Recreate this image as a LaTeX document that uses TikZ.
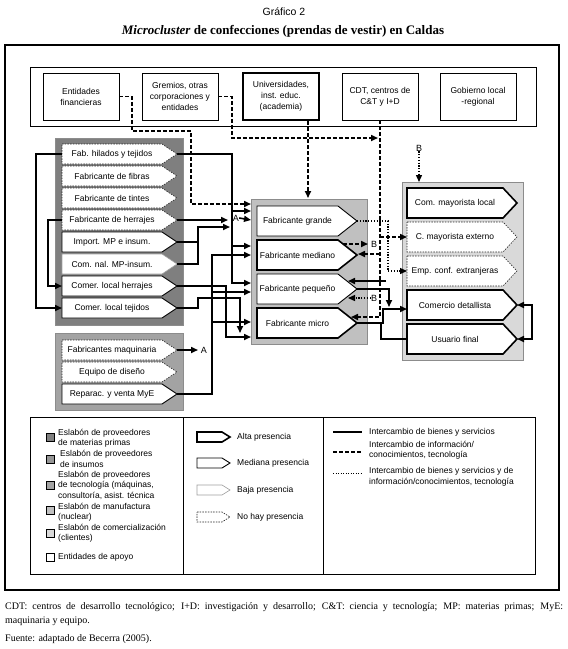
\documentclass[tikz,border=0pt]{standalone}
\usepackage{fontspec}
\setmainfont{Liberation Sans}
\newfontfamily\tnr{Liberation Serif}
\usetikzlibrary{arrows.meta,calc}
\definecolor{gMP}{HTML}{7F7F7F}
\definecolor{gIns}{HTML}{969696}
\definecolor{gTec}{HTML}{A3A3A3}
\definecolor{gMan}{HTML}{C0C0C0}
\definecolor{gCom}{HTML}{D9D9D9}
\definecolor{gBor}{HTML}{8C8C8C}
\newcommand{\pent}[8]{%
  \draw[#2,fill=white] (#3,#4) -- (#3+#5,#4) -- (#3+#5+#7,#4+#6/2) -- (#3+#5,#4+#6) -- (#3,#4+#6) -- cycle;
  \node[itxt] (#1) at (#3+#5/2,#4+#6/2) {#8};
  \coordinate (#1-tip) at (#3+#5+#7,#4+#6/2);
  \coordinate (#1-w) at (#3,#4+#6/2);
}
\tikzset{
  alta/.style={draw=black,line width=1.6pt},
  mediana/.style={draw=black,line width=0.9pt},
  baja/.style={draw=gray!75,line width=0.6pt},
  nohay/.style={draw=black!85,line width=0.6pt,dash pattern=on 1.5pt off 1.2pt},
  itxt/.style={font=\fontsize{8.5}{10}\selectfont,inner sep=0pt},
  grp/.style={draw=gBor,line width=0.8pt,inner sep=0pt},
  conn/.style={line width=1.6pt},
  arr/.style={-{Triangle[length=7pt,width=6pt]}},
  arrb/.style={{Triangle[length=7pt,width=6pt]}-{Triangle[length=7pt,width=6pt]}},
  info/.style={line width=1.6pt,dash pattern=on 4pt off 2pt},
  mix/.style={line width=1.3pt,dash pattern=on 1.2pt off 1.6pt},
  supbox/.style={draw=black,line width=0.6pt,fill=white,align=center,font=\fontsize{8.5}{11}\selectfont,minimum width=76pt,minimum height=47pt,inner sep=1pt},
  lbl/.style={font=\fontsize{9}{10}\selectfont,inner sep=0pt},
  legtxt/.style={font=\fontsize{8.5}{10.5}\selectfont,inner sep=0pt,anchor=west,align=left},
  legsq/.style={draw=black,line width=0.5pt,minimum size=8pt,inner sep=0pt},
}
\begin{document}
\begin{tikzpicture}[x=1pt,y=-1pt]
\useasboundingbox (0,0) rectangle (568,649);
\fill[white] (0,0) rectangle (568,649);
% titles
\node[font=\fontsize{10.5}{12}\selectfont] (t1) at (284,12) {Gráfico 2};
\node[font=\tnr\bfseries\fontsize{13}{15}\selectfont] (t2) at (283,31) {\textit{Microcluster} de confecciones (prendas de vestir) en Caldas};
% frame
\draw[line width=2pt] (5,45) rectangle (559,590);
% support entities
\node[draw=black,line width=0.6pt,minimum width=506pt,minimum height=59pt,inner sep=0pt] (topbox) at (283,96.5) {};
\node[supbox] (ent) at (81,96.5) {Entidades\\financieras};
\node[supbox] (gre) at (180,96.5) {Gremios, otras\\corporaciones y\\entidades};
\node[supbox,line width=2pt] (uni) at (281,96.5) {Universidades,\\inst. educ.\\(academia)};
\node[supbox] (cdt) at (380,96.5) {CDT, centros de\\C\&T y I+D};
\node[supbox] (gob) at (478,96.5) {Gobierno local\\-regional};
% group boxes
\node[grp,fill=gMP,minimum width=128pt,minimum height=187pt,anchor=north west] (mpbox) at (55,138) {};
\node[grp,fill=gTec,minimum width=128pt,minimum height=77pt,anchor=north west] (tecbox) at (55,333) {};
\node[grp,fill=gMan,minimum width=116pt,minimum height=145pt,anchor=north west] (manbox) at (251,199) {};
\node[grp,fill=gCom,minimum width=121pt,minimum height=178pt,anchor=north west] (combox) at (402,182) {};
% supplier items
\pent{hil}{nohay}{62}{144}{100}{20}{15}{Fab. hilados y tejidos}
\pent{fib}{nohay}{62}{166}{100}{20}{15}{Fabricante de fibras}
\pent{tin}{nohay}{62}{188}{100}{20}{15}{Fabricante de tintes}
\pent{her}{nohay}{62}{210}{100}{20}{15}{Fabricante de herrajes}
\pent{imp}{mediana}{62}{232}{100}{20}{15}{Import. MP e insum.}
\pent{cnl}{baja}{62}{254}{100}{20}{15}{Com. nal. MP-insum.}
\pent{clh}{mediana}{62}{276}{100}{20}{15}{Comer. local herrajes}
\pent{clt}{mediana}{62}{298}{100}{20}{15}{Comer. local tejidos}
% technology
\pent{maq}{nohay}{62}{340}{100}{20}{15}{Fabricantes maquinaria}
\pent{eqd}{nohay}{62}{362}{100}{20}{15}{Equipo de diseño}
\pent{rep}{mediana}{62}{384}{100}{20}{15}{Reparac. y venta MyE}
% manufacturing
\pent{gra}{mediana}{257}{206}{81}{30}{19}{Fabricante grande}
\pent{med}{alta}{257}{240}{81}{30}{19}{Fabricante mediano}
\pent{pqe}{mediana}{257}{274}{81}{30}{19}{Fabricante pequeño}
\pent{mic}{alta}{257}{308}{81}{30}{19}{Fabricante micro}
% commercialisation
\pent{cml}{alta}{407}{188}{96}{30}{14}{Com. mayorista local}
\pent{cme}{nohay}{407}{222}{96}{30}{14}{C. mayorista externo}
\pent{emp}{nohay}{407}{256}{96}{30}{14}{Emp. conf. extranjeras}
\pent{det}{alta}{407}{290}{96}{30}{14}{Comercio detallista}
\pent{usu}{alta}{407}{324}{96}{30}{14}{Usuario final}
% dashed information flows
\draw[info,arr] (ent.east) -| (132,131) -| (191,204) -- (251,204);
\draw[info,arr] (gre.east) -| (232,138) -- (378,138);
\draw[info,arr] ($(uni.south)+(27,0)$) -- (308,198);
\draw[info,arr] (cdt.south) -- (380,317) -- (351,317);
\draw[info,arr] (380,254) -- (358,254);
\draw[info,arr] (380,237) -- (407,237);
\draw[info,arr] (343,244) -- (368,244);
\node[lbl] (b1) at (374,244) {B};
% dotted flows
\node[lbl] (b2) at (374,298) {B};
\draw[mix,arr] (b2.west) -- (348,298);
\node[lbl] (b3) at (419,148) {B};
\draw[mix,arr] (b3.south) -- (419,182);
\draw[mix,arr] (gra-tip) -- (388,221) -- (388,271) -- (emp-w);
% solid flows, left side
\draw[conn,arr] (hil-w) -- (36,154) -- (36,308) -- (clt-w);
\draw[conn,arr] (her-w) -- (48,220) -- (48,286) -- (clh-w);
% solid flows to manufacturing
\draw[conn,arr] (hil-tip) -- (232,154) -- (232,283) -- (251,283);
\draw[conn,arr] (232,211) -- (251,211);
\draw[conn,arr] (232,246) -- (251,246);
\draw[conn,arr] (her-tip) -- (228,220);
\node[lbl] (a1) at (236,218) {A};
\draw[conn,arr] (a1.east) -- (251,220);
\draw[conn,arr] (imp-tip) -- (198,242) -- (198,227) -- (230,227);
\draw[conn] (cnl-tip) -- (198,264) -- (198,242);
\draw[conn,arr] (rep-tip) -- (212,394) -- (212,255) -- (251,255);
\draw[conn,arr] (212,292) -- (251,292);
\draw[conn,arr] (212,322) -- (251,322);
\draw[conn,arr] (clh-tip) -- (226,286) -- (226,337) -- (251,337);
\draw[conn,arr] (clt-tip) -- (198,308) -- (198,298) -- (240,298) -- (240,333);
\draw[conn,arr] (maq-tip) -- (198,350);
\node[lbl] (a2) at (204,350) {A};
% solid flows to commercialisation
\coordinate (ret) at (386,281);
\draw[conn,arr] (ret) -- (348,281);
\draw[conn,arr] (pqe-tip) -- (389,289) -- (389,307);
\draw[conn,arr] (mic-tip) -- (383,323) -- (383,309) -- (407,309);
\draw[conn] (mic-tip) -| (381,339) -- (usu-w);
\draw[conn,arrb] (det-tip) -- (532,305) -- (532,339) -- (usu-tip);
% legend
\draw[line width=0.8pt] (30,417) rectangle (535,574);
\draw[line width=0.8pt] (183,417) -- (183,574);
\draw[line width=0.8pt] (323,417) -- (323,574);
\node[legsq,fill=gMP] (s1) at (50,437) {};
\node[legtxt] (l1) at (58,438) {Eslabón de proveedores\\de materias primas};
\node[legsq,fill=gIns] (s2) at (50,459) {};
\node[legtxt] (l2) at (60,459) {Eslabón de proveedores\\de insumos};
\node[legsq,fill=gTec] (s3) at (50,485) {};
\node[legtxt] (l3) at (58,485) {Eslabón de proveedores\\de tecnología (máquinas,\\consultoría, asist. técnica};
\node[legsq,fill=gMan] (s4) at (50,510) {};
\node[legtxt] (l4) at (58,512) {Eslabón de manufactura\\(nuclear)};
\node[legsq,fill=gCom] (s5) at (50,533) {};
\node[legtxt] (l5) at (58,533) {Eslabón de comercialización\\(clientes)};
\node[legsq,fill=white] (s6) at (50,557) {};
\node[legtxt] (l6) at (58,557) {Entidades de apoyo};
\pent{lg1}{alta}{197}{432}{25}{10}{8}{}
\node[legtxt] (m1) at (237,437) {Alta presencia};
\pent{lg2}{mediana}{197}{458}{25}{10}{8}{}
\node[legtxt] (m2) at (237,463) {Mediana presencia};
\pent{lg3}{baja}{197}{485}{25}{10}{8}{}
\node[legtxt] (m3) at (237,490) {Baja presencia};
\pent{lg4}{nohay}{197}{512}{25}{10}{8}{}
\node[legtxt] (m4) at (237,517) {No hay presencia};
\coordinate (r1a) at (333,432); \coordinate (r1b) at (362,432);
\draw[conn] (r1a) -- (r1b);
\node[legtxt] (n1) at (369,432) {Intercambio de bienes y servicios};
\coordinate (r2a) at (333,452); \coordinate (r2b) at (362,452);
\draw[info] (r2a) -- (r2b);
\node[legtxt] (n2) at (369,450) {Intercambio de información/\\conocimientos, tecnología};
\coordinate (r3a) at (333,473); \coordinate (r3b) at (362,473);
\draw[line width=1pt,dash pattern=on 1pt off 1.5pt] (r3a) -- (r3b);
\node[legtxt] (n3) at (369,477) {Intercambio de bienes y servicios y de\\información/conocimientos, tecnología};
% footer
\node[anchor=north west,text width=558pt,align=justify,inner sep=0pt,font=\tnr\fontsize{10}{14}\selectfont] (foot) at (5,602) {CDT: centros de desarrollo tecnológico; I+D: investigación y desarrollo; C\&T: ciencia y tecnología; MP: materias primas; MyE:\linebreak maquinaria y equipo.};
\node[anchor=north west,inner sep=0pt,font=\tnr\fontsize{10}{14}\selectfont] (src) at (5,634) {Fuente: adaptado de Becerra (2005).};
\end{tikzpicture}
\end{document}
